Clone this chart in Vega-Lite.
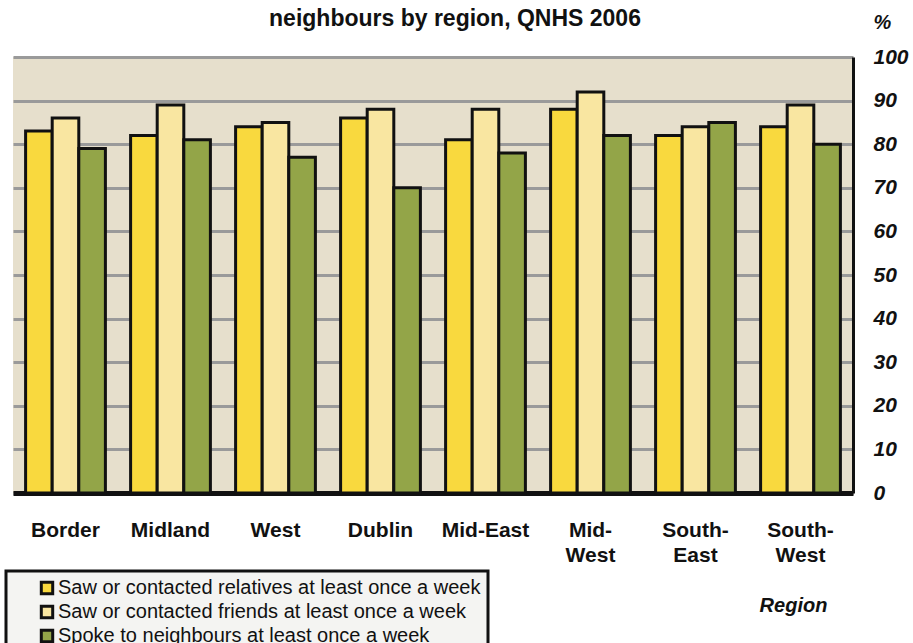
{
  "$schema": "https://vega.github.io/schema/vega-lite/v6.json",
  "width": 840,
  "height": 436,
  "autosize": "none",
  "padding": {"left": 13, "top": 57, "right": 60, "bottom": 150},
  "background": "white",
  "title": {
    "text": "neighbours by region, QNHS 2006",
    "anchor": "middle",
    "dx": 22,
    "offset": -19,
    "font": "Liberation Sans",
    "fontSize": 23,
    "fontWeight": "bold",
    "color": "#111"
  },
  "data": {
    "values": [
      {"region": "Border", "series": "Saw or contacted relatives at least once a week", "value": 83},
      {"region": "Border", "series": "Saw or contacted friends at least once a week", "value": 86},
      {"region": "Border", "series": "Spoke to neighbours at least once a week", "value": 79},
      {"region": "Midland", "series": "Saw or contacted relatives at least once a week", "value": 82},
      {"region": "Midland", "series": "Saw or contacted friends at least once a week", "value": 89},
      {"region": "Midland", "series": "Spoke to neighbours at least once a week", "value": 81},
      {"region": "West", "series": "Saw or contacted relatives at least once a week", "value": 84},
      {"region": "West", "series": "Saw or contacted friends at least once a week", "value": 85},
      {"region": "West", "series": "Spoke to neighbours at least once a week", "value": 77},
      {"region": "Dublin", "series": "Saw or contacted relatives at least once a week", "value": 86},
      {"region": "Dublin", "series": "Saw or contacted friends at least once a week", "value": 88},
      {"region": "Dublin", "series": "Spoke to neighbours at least once a week", "value": 70},
      {"region": "Mid-East", "series": "Saw or contacted relatives at least once a week", "value": 81},
      {"region": "Mid-East", "series": "Saw or contacted friends at least once a week", "value": 88},
      {"region": "Mid-East", "series": "Spoke to neighbours at least once a week", "value": 78},
      {"region": "Mid-West", "series": "Saw or contacted relatives at least once a week", "value": 88},
      {"region": "Mid-West", "series": "Saw or contacted friends at least once a week", "value": 92},
      {"region": "Mid-West", "series": "Spoke to neighbours at least once a week", "value": 82},
      {"region": "South-East", "series": "Saw or contacted relatives at least once a week", "value": 82},
      {"region": "South-East", "series": "Saw or contacted friends at least once a week", "value": 84},
      {"region": "South-East", "series": "Spoke to neighbours at least once a week", "value": 85},
      {"region": "South-West", "series": "Saw or contacted relatives at least once a week", "value": 84},
      {"region": "South-West", "series": "Saw or contacted friends at least once a week", "value": 89},
      {"region": "South-West", "series": "Spoke to neighbours at least once a week", "value": 80}
    ]
  },
  "mark": {"type": "bar", "stroke": "#111", "strokeWidth": 3},
  "encoding": {
    "x": {
      "field": "region",
      "type": "nominal",
      "sort": ["Border", "Midland", "West", "Dublin", "Mid-East", "Mid-West", "South-East", "South-West"],
      "scale": {"paddingInner": 0.24, "paddingOuter": 0.12},
      "axis": {
        "title": "Region",
        "titleX": 780,
        "titleY": 112,
        "titleAlign": "center",
        "titleBaseline": "middle",
        "titleFont": "Liberation Sans",
        "titleFontSize": 20,
        "titleFontWeight": "bold",
        "titleFontStyle": "italic",
        "titleColor": "#111",
        "labelAngle": 0,
        "labelFont": "Liberation Sans",
        "labelFontSize": 21,
        "labelFontWeight": "bold",
        "labelColor": "#111",
        "labelPadding": 26,
        "labelBaseline": "top",
        "labelLineHeight": 25,
        "labelExpr": "datum.label == 'Mid-West' ? ['Mid-', 'West'] : datum.label == 'South-East' ? ['South-', 'East'] : datum.label == 'South-West' ? ['South-', 'West'] : datum.label",
        "ticks": false,
        "domainColor": "#111",
        "domainWidth": 5,
        "grid": false
      }
    },
    "xOffset": {
      "field": "series",
      "type": "nominal",
      "sort": ["Saw or contacted relatives at least once a week", "Saw or contacted friends at least once a week", "Spoke to neighbours at least once a week"],
      "scale": {"paddingInner": 0, "paddingOuter": 0}
    },
    "y": {
      "field": "value",
      "type": "quantitative",
      "scale": {"domain": [0, 100], "nice": false},
      "axis": {
        "orient": "right",
        "values": [0, 10, 20, 30, 40, 50, 60, 70, 80, 90, 100],
        "title": "%",
        "titleAngle": 0,
        "titleX": 20,
        "titleY": -35,
        "titleAlign": "left",
        "titleBaseline": "middle",
        "titleFont": "Liberation Sans",
        "titleFontSize": 20,
        "titleFontWeight": "bold",
        "titleFontStyle": "italic",
        "titleColor": "#111",
        "labelFont": "Liberation Sans",
        "labelFontSize": 21,
        "labelFontWeight": "bold",
        "labelFontStyle": "italic",
        "labelColor": "#111",
        "labelAlign": "left",
        "labelPadding": 20,
        "labelFlush": false,
        "labelOverlap": false,
        "ticks": false,
        "domainColor": "#111",
        "domainWidth": 3,
        "grid": true,
        "gridColor": "#9a9a9a",
        "gridWidth": 3
      }
    },
    "color": {
      "field": "series",
      "type": "nominal",
      "sort": ["Saw or contacted relatives at least once a week", "Saw or contacted friends at least once a week", "Spoke to neighbours at least once a week"],
      "scale": {
        "domain": ["Saw or contacted relatives at least once a week", "Saw or contacted friends at least once a week", "Spoke to neighbours at least once a week"],
        "range": ["#f9d93e", "#f9e6a1", "#93a548"]
      },
      "legend": {
        "title": null,
        "orient": "none",
        "legendX": -7,
        "legendY": 514,
        "direction": "vertical",
        "fillColor": "#f4f4f2",
        "strokeColor": "#111",
        "padding": 7,
        "rowPadding": 0,
        "symbolType": "square",
        "symbolSize": 130,
        "symbolStrokeColor": "#111",
        "symbolStrokeWidth": 3,
        "symbolOffset": 24,
        "labelOffset": 1,
        "labelFont": "Liberation Sans",
        "labelFontSize": 20,
        "labelColor": "#111",
        "labelLimit": 600,
        "encode": {"legend": {"update": {"strokeWidth": {"value": 3}}}}
      }
    }
  },
  "config": {
    "view": {"fill": "#e6dfcc", "stroke": null}
  }
}
